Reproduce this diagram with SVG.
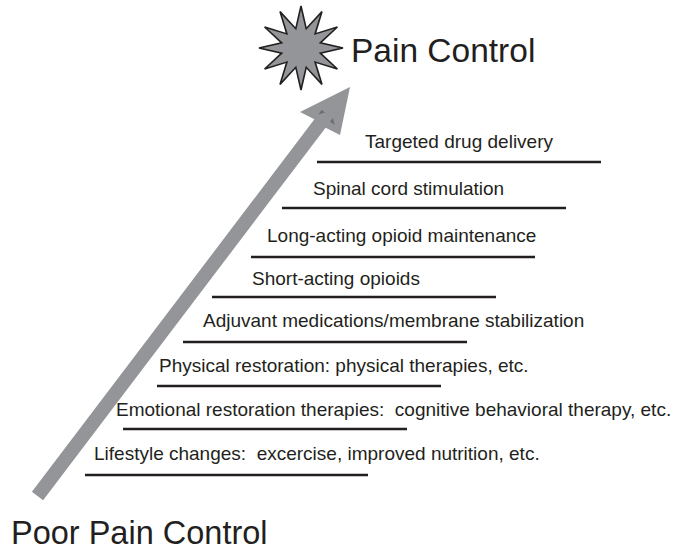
<svg xmlns="http://www.w3.org/2000/svg" width="679" height="550" viewBox="0 0 679 550">
<style>
.lbl{font-family:"Liberation Sans",Arial,Helvetica,sans-serif;font-size:19px;fill:#231f20}
.big{font-family:"Liberation Sans",Arial,Helvetica,sans-serif;font-size:33.5px;fill:#231f20}
.step{stroke:#231f20;stroke-width:2.4;fill:none}
.gray{fill:#939598}
</style>
<rect width="679" height="550" fill="#ffffff"/>
<g id="arrow">
<polygon class="gray" points="31.9,491.8 314.4,119.3 300,112 350,87 340,135 325.6,127.7 43.1,500.2"/>
<polygon fill="#6d6e71" points="318.5,114.5 321.7,109.8 325,112.5"/>
<polygon fill="#6d6e71" points="330,121.5 333,118 334.5,125"/>
</g>
<g id="pain-control">
<polygon fill="#939598" stroke="#231f20" stroke-width="1.6" stroke-linejoin="miter" points="301,6 306.2,28.7 322,11.6 315.1,33.9 337.4,27 320.3,42.8 343,48 320.3,53.2 337.4,69 315.1,62.1 322,84.4 306.2,67.3 301,90 295.8,67.3 280,84.4 286.9,62.1 264.6,69 281.7,53.2 259,48 281.7,42.8 264.6,27 286.9,33.9 280,11.6 295.8,28.7"/>
<text class="big" x="351" y="62">Pain Control</text>
</g>
<g id="poor-pain-control">
<text class="big" x="11" y="544" style="font-size:32.5px">Poor Pain Control</text>
</g>
<g id="connectors">
<line class="step" x1="317" y1="162" x2="601" y2="162"/>
<line class="step" x1="282" y1="208" x2="566" y2="208"/>
<line class="step" x1="251" y1="257" x2="535" y2="257"/>
<line class="step" x1="212" y1="297" x2="496" y2="297"/>
<line class="step" x1="183" y1="342" x2="467" y2="342"/>
<line class="step" x1="157" y1="386" x2="441" y2="386"/>
<line class="step" x1="123" y1="429" x2="407" y2="429"/>
<line class="step" x1="85" y1="475" x2="368" y2="475"/>
</g>
<g id="step-targeted"><text class="lbl" x="365" y="148">Targeted drug delivery</text></g>
<g id="step-spinal"><text class="lbl" x="313" y="195">Spinal cord stimulation</text></g>
<g id="step-long"><text class="lbl" x="267" y="242">Long-acting opioid maintenance</text></g>
<g id="step-short"><text class="lbl" x="252" y="285">Short-acting opioids</text></g>
<g id="step-adjuvant"><text class="lbl" x="203" y="327">Adjuvant medications/membrane stabilization</text></g>
<g id="step-physical"><text class="lbl" x="159" y="372">Physical restoration: physical therapies, etc.</text></g>
<g id="step-emotional"><text class="lbl" x="116" y="416" xml:space="preserve">Emotional restoration therapies:  cognitive behavioral therapy, etc.</text></g>
<g id="step-lifestyle"><text class="lbl" x="94" y="460" xml:space="preserve">Lifestyle changes:  excercise, improved nutrition, etc.</text></g>
</svg>
